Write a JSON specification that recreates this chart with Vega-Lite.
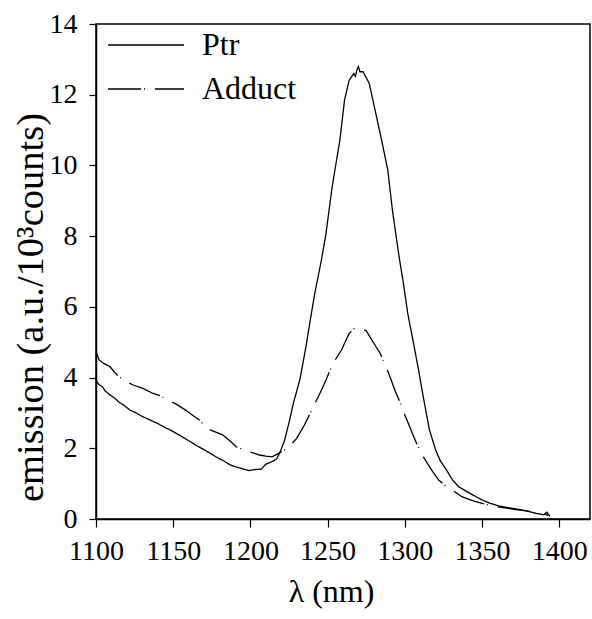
{
  "$schema": "https://vega.github.io/schema/vega-lite/v6.json",
  "autosize": {"type": "none"},
  "padding": {"left": 96, "top": 24, "right": 2, "bottom": 100},
  "width": 494,
  "height": 495,
  "config": {
    "font": "Liberation Serif",
    "view": {"stroke": "black", "strokeWidth": 1.5},
    "axis": {"grid": false, "domainColor": "black", "domainWidth": 1.5, "tickColor": "black", "tickWidth": 1.2, "labelColor": "black", "titleColor": "black", "labelFont": "Liberation Serif", "titleFont": "Liberation Serif", "titleFontWeight": "normal"}
  },
  "data": {"values": [
    {"wl":1100,"v":3.92,"s":"Ptr"},{"wl":1102,"v":3.80,"s":"Ptr"},{"wl":1104,"v":3.75,"s":"Ptr"},{"wl":1106,"v":3.62,"s":"Ptr"},{"wl":1109,"v":3.51,"s":"Ptr"},{"wl":1112,"v":3.42,"s":"Ptr"},{"wl":1115,"v":3.30,"s":"Ptr"},{"wl":1118,"v":3.22,"s":"Ptr"},{"wl":1122,"v":3.08,"s":"Ptr"},{"wl":1126,"v":3.00,"s":"Ptr"},{"wl":1130,"v":2.90,"s":"Ptr"},{"wl":1135,"v":2.80,"s":"Ptr"},{"wl":1140,"v":2.70,"s":"Ptr"},{"wl":1145,"v":2.58,"s":"Ptr"},{"wl":1148,"v":2.52,"s":"Ptr"},{"wl":1152,"v":2.42,"s":"Ptr"},{"wl":1156,"v":2.32,"s":"Ptr"},{"wl":1161,"v":2.19,"s":"Ptr"},{"wl":1165,"v":2.08,"s":"Ptr"},{"wl":1170,"v":1.96,"s":"Ptr"},{"wl":1174,"v":1.86,"s":"Ptr"},{"wl":1178,"v":1.75,"s":"Ptr"},{"wl":1182,"v":1.66,"s":"Ptr"},{"wl":1187,"v":1.53,"s":"Ptr"},{"wl":1191,"v":1.47,"s":"Ptr"},{"wl":1195,"v":1.42,"s":"Ptr"},{"wl":1199,"v":1.37,"s":"Ptr"},{"wl":1203,"v":1.40,"s":"Ptr"},{"wl":1207,"v":1.41,"s":"Ptr"},{"wl":1210,"v":1.55,"s":"Ptr"},{"wl":1214,"v":1.62,"s":"Ptr"},{"wl":1217,"v":1.70,"s":"Ptr"},{"wl":1219,"v":1.87,"s":"Ptr"},{"wl":1222,"v":2.20,"s":"Ptr"},{"wl":1225,"v":2.72,"s":"Ptr"},{"wl":1228,"v":3.30,"s":"Ptr"},{"wl":1232,"v":3.93,"s":"Ptr"},{"wl":1236,"v":4.87,"s":"Ptr"},{"wl":1239,"v":5.68,"s":"Ptr"},{"wl":1242,"v":6.45,"s":"Ptr"},{"wl":1246,"v":7.32,"s":"Ptr"},{"wl":1249,"v":8.08,"s":"Ptr"},{"wl":1253,"v":9.40,"s":"Ptr"},{"wl":1258,"v":10.72,"s":"Ptr"},{"wl":1261,"v":11.85,"s":"Ptr"},{"wl":1264,"v":12.41,"s":"Ptr"},{"wl":1267,"v":12.60,"s":"Ptr"},{"wl":1268,"v":12.52,"s":"Ptr"},{"wl":1269,"v":12.70,"s":"Ptr"},{"wl":1270,"v":12.80,"s":"Ptr"},{"wl":1271,"v":12.65,"s":"Ptr"},{"wl":1273,"v":12.65,"s":"Ptr"},{"wl":1277,"v":12.32,"s":"Ptr"},{"wl":1281,"v":11.52,"s":"Ptr"},{"wl":1285,"v":10.72,"s":"Ptr"},{"wl":1289,"v":9.87,"s":"Ptr"},{"wl":1292,"v":8.74,"s":"Ptr"},{"wl":1296,"v":7.51,"s":"Ptr"},{"wl":1299,"v":6.70,"s":"Ptr"},{"wl":1302,"v":5.80,"s":"Ptr"},{"wl":1306,"v":4.90,"s":"Ptr"},{"wl":1309,"v":4.20,"s":"Ptr"},{"wl":1312,"v":3.45,"s":"Ptr"},{"wl":1316,"v":2.52,"s":"Ptr"},{"wl":1320,"v":1.95,"s":"Ptr"},{"wl":1323,"v":1.65,"s":"Ptr"},{"wl":1327,"v":1.39,"s":"Ptr"},{"wl":1331,"v":1.10,"s":"Ptr"},{"wl":1335,"v":0.91,"s":"Ptr"},{"wl":1342,"v":0.73,"s":"Ptr"},{"wl":1350,"v":0.54,"s":"Ptr"},{"wl":1355,"v":0.45,"s":"Ptr"},{"wl":1361,"v":0.37,"s":"Ptr"},{"wl":1367,"v":0.32,"s":"Ptr"},{"wl":1374,"v":0.27,"s":"Ptr"},{"wl":1380,"v":0.22,"s":"Ptr"},{"wl":1385,"v":0.16,"s":"Ptr"},{"wl":1390,"v":0.12,"s":"Ptr"},{"wl":1392,"v":0.19,"s":"Ptr"},{"wl":1394,"v":0.08,"s":"Ptr"},
    {"wl":1100,"v":4.72,"s":"Adduct"},{"wl":1102,"v":4.50,"s":"Adduct"},{"wl":1105,"v":4.40,"s":"Adduct"},{"wl":1109,"v":4.31,"s":"Adduct"},{"wl":1112,"v":4.15,"s":"Adduct"},{"wl":1115,"v":4.02,"s":"Adduct"},{"wl":1120,"v":3.88,"s":"Adduct"},{"wl":1124,"v":3.79,"s":"Adduct"},{"wl":1130,"v":3.70,"s":"Adduct"},{"wl":1137,"v":3.55,"s":"Adduct"},{"wl":1142,"v":3.48,"s":"Adduct"},{"wl":1146,"v":3.37,"s":"Adduct"},{"wl":1152,"v":3.25,"s":"Adduct"},{"wl":1158,"v":3.08,"s":"Adduct"},{"wl":1163,"v":2.92,"s":"Adduct"},{"wl":1167,"v":2.80,"s":"Adduct"},{"wl":1170,"v":2.65,"s":"Adduct"},{"wl":1174,"v":2.52,"s":"Adduct"},{"wl":1178,"v":2.45,"s":"Adduct"},{"wl":1182,"v":2.38,"s":"Adduct"},{"wl":1187,"v":2.20,"s":"Adduct"},{"wl":1191,"v":2.04,"s":"Adduct"},{"wl":1196,"v":1.95,"s":"Adduct"},{"wl":1201,"v":1.88,"s":"Adduct"},{"wl":1206,"v":1.81,"s":"Adduct"},{"wl":1210,"v":1.78,"s":"Adduct"},{"wl":1214,"v":1.76,"s":"Adduct"},{"wl":1218,"v":1.85,"s":"Adduct"},{"wl":1222,"v":1.95,"s":"Adduct"},{"wl":1225,"v":2.04,"s":"Adduct"},{"wl":1230,"v":2.28,"s":"Adduct"},{"wl":1235,"v":2.66,"s":"Adduct"},{"wl":1240,"v":3.10,"s":"Adduct"},{"wl":1245,"v":3.55,"s":"Adduct"},{"wl":1249,"v":3.93,"s":"Adduct"},{"wl":1253,"v":4.36,"s":"Adduct"},{"wl":1259,"v":4.78,"s":"Adduct"},{"wl":1264,"v":5.25,"s":"Adduct"},{"wl":1267,"v":5.38,"s":"Adduct"},{"wl":1270,"v":5.40,"s":"Adduct"},{"wl":1272,"v":5.36,"s":"Adduct"},{"wl":1275,"v":5.33,"s":"Adduct"},{"wl":1278,"v":5.11,"s":"Adduct"},{"wl":1281,"v":4.90,"s":"Adduct"},{"wl":1284,"v":4.69,"s":"Adduct"},{"wl":1290,"v":4.07,"s":"Adduct"},{"wl":1294,"v":3.60,"s":"Adduct"},{"wl":1297,"v":3.30,"s":"Adduct"},{"wl":1300,"v":2.95,"s":"Adduct"},{"wl":1305,"v":2.42,"s":"Adduct"},{"wl":1308,"v":2.10,"s":"Adduct"},{"wl":1312,"v":1.76,"s":"Adduct"},{"wl":1316,"v":1.48,"s":"Adduct"},{"wl":1319,"v":1.28,"s":"Adduct"},{"wl":1322,"v":1.10,"s":"Adduct"},{"wl":1326,"v":0.95,"s":"Adduct"},{"wl":1329,"v":0.87,"s":"Adduct"},{"wl":1333,"v":0.75,"s":"Adduct"},{"wl":1337,"v":0.63,"s":"Adduct"},{"wl":1342,"v":0.55,"s":"Adduct"},{"wl":1346,"v":0.49,"s":"Adduct"},{"wl":1352,"v":0.42,"s":"Adduct"},{"wl":1359,"v":0.35,"s":"Adduct"},{"wl":1366,"v":0.31,"s":"Adduct"},{"wl":1373,"v":0.26,"s":"Adduct"},{"wl":1380,"v":0.22,"s":"Adduct"},{"wl":1386,"v":0.16,"s":"Adduct"},{"wl":1391,"v":0.13,"s":"Adduct"},{"wl":1393,"v":0.10,"s":"Adduct"}
  ]},
  "mark": {"type": "line", "color": "black", "strokeWidth": 1.3, "interpolate": "linear"},
  "encoding": {
    "x": {"field": "wl", "type": "quantitative", "scale": {"domain": [1100, 1420], "nice": false, "zero": false},
      "axis": {"values": [1100,1150,1200,1250,1300,1350,1400], "format": "d", "title": "λ (nm)", "labelFontSize": 28, "titleFontSize": 32, "tickSize": 8, "labelPadding": 10, "labelFlush": false, "labelOverlap": false, "titleX": 235, "titleY": 82, "titleBaseline": "alphabetic"}},
    "y": {"field": "v", "type": "quantitative", "scale": {"domain": [0, 14], "nice": false},
      "axis": {"values": [0,2,4,6,8,10,12,14], "format": "d", "title": "emission (a.u./10³counts)", "labelFontSize": 28, "titleFontSize": 38.5, "tickSize": 7, "labelPadding": 12, "labelFlush": false, "labelOverlap": false, "titleX": -54, "titleY": 283, "titleBaseline": "alphabetic"}},
    "strokeDash": {"field": "s", "type": "nominal", "scale": {"domain": ["Ptr", "Adduct"], "range": [[1, 0], [33, 3, 1, 10]]},
      "legend": {"title": null, "orient": "none", "legendX": 11, "legendY": -1, "symbolType": "stroke", "symbolSize": 5776, "symbolStrokeWidth": 1.3, "symbolStrokeColor": "black", "labelFontSize": 32, "labelFont": "Liberation Serif", "labelColor": "black", "labelOffset": 17, "padding": 0, "rowPadding": 0, "clipHeight": 44}}
  }
}
